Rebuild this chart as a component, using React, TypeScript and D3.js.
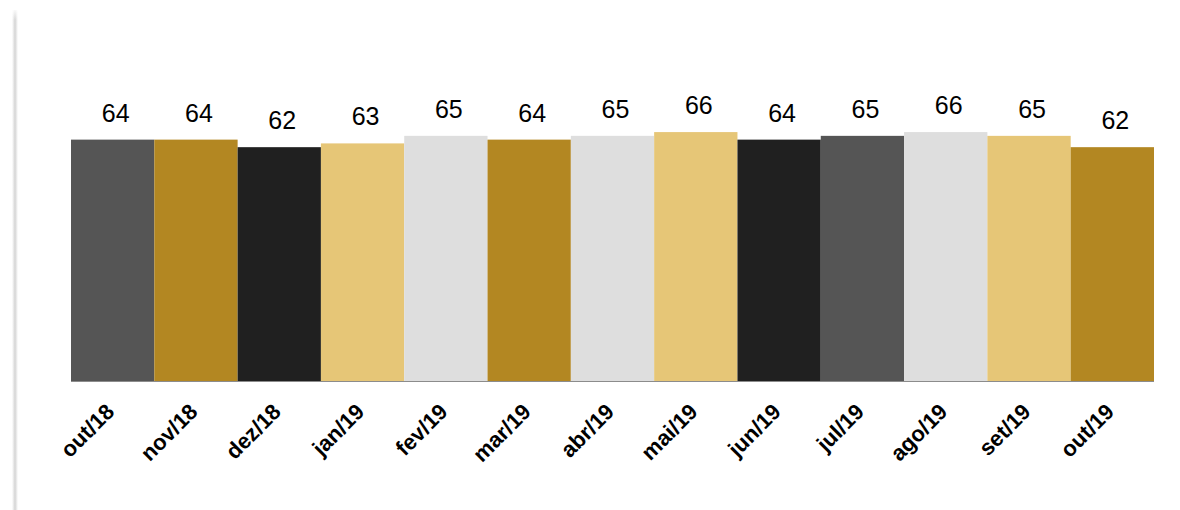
import React from "react";
import * as d3 from "d3";

const categories = ["out/18", "nov/18", "dez/18", "jan/19", "fev/19", "mar/19", "abr/19", "mai/19", "jun/19", "jul/19", "ago/19", "set/19", "out/19"];
const values = [64, 64, 62, 63, 65, 64, 65, 66, 64, 65, 66, 65, 62];
const colors = ["#555555", "#B38722", "#202020", "#E6C677", "#DEDEDE", "#B38722", "#DEDEDE", "#E6C677", "#202020", "#555555", "#DEDEDE", "#E6C677", "#B38722"];

const W = 1180;
const H = 510;
const left = 71;
const right = 1154;
const baseY = 381;

export default function App() {
  const x = d3.scaleBand<string>().domain(categories).range([left, right]).padding(0);
  const y = d3.scaleLinear().domain([0, 70]).range([baseY, baseY - 264]);
  return (
    <svg width={W} height={H} style={{ position: "absolute", left: 0, top: 0, background: "#fff" }} fontFamily="'Liberation Sans', Arial, sans-serif">
      <defs>
        <linearGradient id="shadow" x1="0" x2="1" y1="0" y2="0">
          <stop offset="0" stopColor="#ffffff" />
          <stop offset="0.5" stopColor="#d4d4d4" />
          <stop offset="1" stopColor="#ffffff" />
        </linearGradient>
        <linearGradient id="shadowTop" x1="0" x2="0" y1="0" y2="1">
          <stop offset="0" stopColor="#fff" stopOpacity="1" />
          <stop offset="1" stopColor="#fff" stopOpacity="0" />
        </linearGradient>
      </defs>
      <rect x={12} y={10} width={6} height={H - 10} fill="url(#shadow)" />
      <rect x={12} y={8} width={6} height={12} fill="url(#shadowTop)" />
      {categories.map((c, i) => (
        <rect key={c} x={x(c)!} y={y(values[i])} width={x.bandwidth()} height={baseY - y(values[i])} fill={colors[i]} />
      ))}
      <line x1={left} x2={right} y1={baseY + 0.5} y2={baseY + 0.5} stroke="#8c8c8c" strokeWidth={1} />
      {categories.map((c, i) => (
        <text key={"v" + c} x={x(c)! + x.bandwidth() / 2 + 3} y={y(values[i]) - 18} textAnchor="middle" fontSize={25} fill="#000">
          {values[i]}
        </text>
      ))}
      {categories.map((c) => {
        const cx = x(c)! + x.bandwidth() / 2 + 3;
        const cy = 413;
        return (
          <text key={"l" + c} x={cx} y={cy} textAnchor="end" fontSize={22} fontWeight="bold" fill="#000" transform={`rotate(-45, ${cx}, ${cy})`}>
            {c}
          </text>
        );
      })}
    </svg>
  );
}
